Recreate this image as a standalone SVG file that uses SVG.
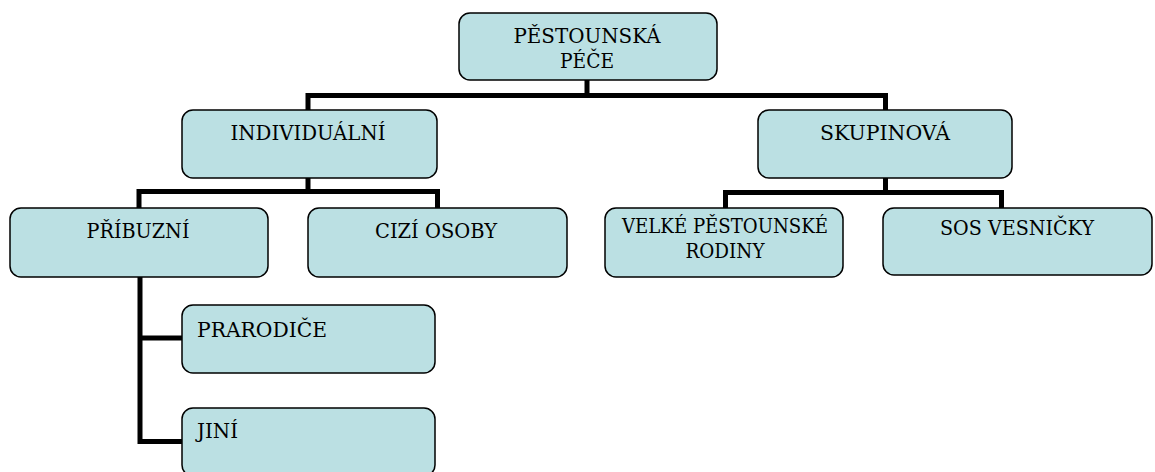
<svg xmlns="http://www.w3.org/2000/svg" width="1155" height="472" viewBox="0 0 1155 472">
<style>
.box{fill:#BBE0E3;stroke:#000;stroke-width:1.5}
text{font-family:'DejaVu Serif',serif;font-size:20px;fill:#000}
.c{text-anchor:middle}
.conn{fill:none;stroke:#000;stroke-width:5;stroke-linecap:square;stroke-linejoin:miter}
</style>
<rect width="1155" height="472" fill="#fff"/>
<g id="connectors" class="conn">
<path d="M587 80V95.5M308 95.5H885.5M308 95.5V110M885.5 95.5V110"/>
<path d="M308 178V191.5M139 191.5H437.5M139 191.5V208M437.5 191.5V208"/>
<path d="M885.5 178V192.5M725.5 192.5H1001.5M725.5 192.5V208M1001.5 192.5V208"/>
<path d="M140 277V441.5H182M140 338H182"/>
</g>
<g id="n-pestounska"><rect class="box" x="459" y="13" width="258" height="67" rx="11"/><text class="c" x="587" y="43" textLength="147" lengthAdjust="spacingAndGlyphs">PĚSTOUNSKÁ</text><text class="c" x="587" y="68" textLength="54" lengthAdjust="spacingAndGlyphs">PÉČE</text></g>
<g id="n-individualni"><rect class="box" x="182" y="110" width="255" height="68" rx="11"/><text class="c" x="308" y="140" textLength="155" lengthAdjust="spacingAndGlyphs">INDIVIDUÁLNÍ</text></g>
<g id="n-skupinova"><rect class="box" x="758" y="110" width="254" height="68" rx="11"/><text class="c" x="885" y="140" textLength="130" lengthAdjust="spacingAndGlyphs">SKUPINOVÁ</text></g>
<g id="n-pribuzni"><rect class="box" x="10" y="208" width="258" height="69" rx="11"/><text class="c" x="138" y="238" textLength="103" lengthAdjust="spacingAndGlyphs">PŘÍBUZNÍ</text></g>
<g id="n-cizi"><rect class="box" x="308" y="208" width="259" height="69" rx="11"/><text class="c" x="436" y="238" textLength="122" lengthAdjust="spacingAndGlyphs">CIZÍ OSOBY</text></g>
<g id="n-velke"><rect class="box" x="605" y="208" width="238" height="69" rx="11"/><text class="c" x="725" y="233" textLength="206" lengthAdjust="spacingAndGlyphs">VELKÉ PĚSTOUNSKÉ</text><text class="c" x="725" y="258" textLength="79" lengthAdjust="spacingAndGlyphs">RODINY</text></g>
<g id="n-sos"><rect class="box" x="883" y="208" width="269" height="67" rx="11"/><text class="c" x="1017" y="235" textLength="154" lengthAdjust="spacingAndGlyphs">SOS VESNIČKY</text></g>
<g id="n-prarodice"><rect class="box" x="182" y="305" width="253" height="68" rx="11"/><text x="197" y="337" textLength="130" lengthAdjust="spacingAndGlyphs">PRARODIČE</text></g>
<g id="n-jini"><rect class="box" x="182" y="408" width="253" height="68" rx="11"/><text x="197" y="438" textLength="41" lengthAdjust="spacingAndGlyphs">JINÍ</text></g>
</svg>
